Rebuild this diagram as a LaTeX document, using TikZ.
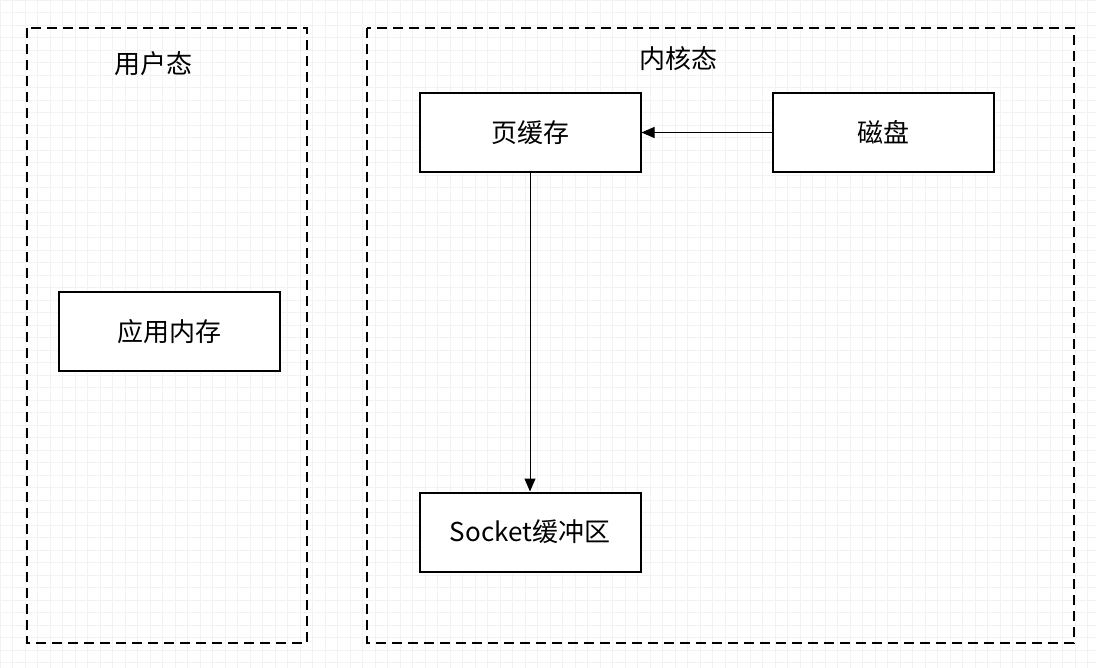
\documentclass[tikz,border=0pt]{standalone}
\usepackage{fontspec}
\setmainfont{Noto Sans CJK SC}
\usetikzlibrary{arrows.meta}
\begin{document}
\begin{tikzpicture}[x=1pt,y=-1pt,
  region/.style={draw=black,line width=2pt,dash pattern=on 10pt off 6pt},
  box/.style={draw=black,line width=2pt,fill=white,minimum width=221pt,minimum height=79pt,inner sep=0pt,font=\fontsize{26}{30}\selectfont},
  lbl/.style={font=\fontsize{26}{30}\selectfont,inner sep=0pt},
  conn/.style={draw=black,line width=1pt,-{Triangle[length=13pt,width=11pt]}}]
\useasboundingbox (0,0) rectangle (1096,668);
\fill[white] (0,0) rectangle (1096,668);
\draw[black!5,line width=0.6pt] (0,0) grid[step=12.5pt] (1096,668);
\draw[region] (27,28) rectangle (307,643);
\draw[region] (367,28) rectangle (1074,643);
\node[lbl] (user) at (153,64) {用户态};
\node[lbl] (kernel) at (678,59) {内核态};
\node[box] (page) at (530,132.5) {页缓存};
\node[box] (disk) at (883,132.5) {磁盘};
\node[box] (app) at (169.5,331.5) {应用内存};
\node[box] (sock) at (530,532) {Socket缓冲区};
\draw[conn] (disk.west) -- (page.east);
\draw[conn] (page.south) -- (sock.north);
\end{tikzpicture}
\end{document}
